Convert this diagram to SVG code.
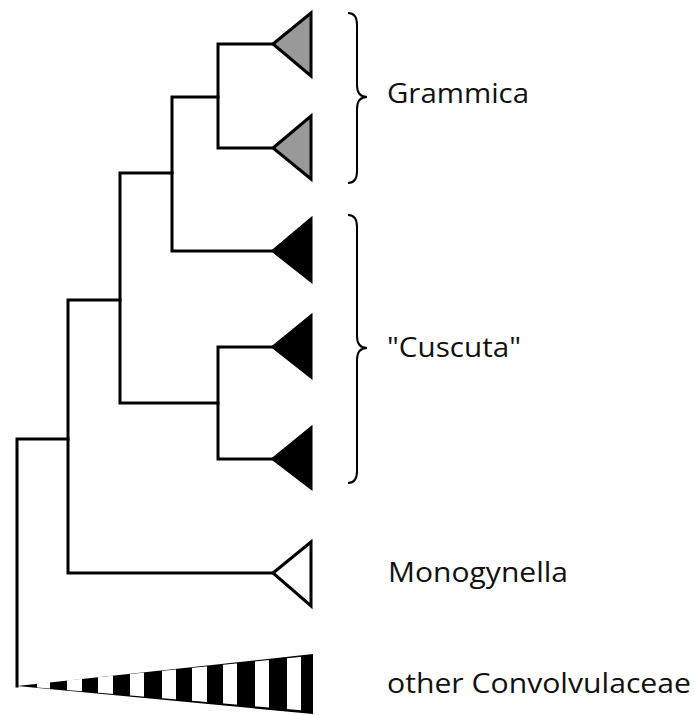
<svg xmlns="http://www.w3.org/2000/svg" width="694" height="715" viewBox="0 0 694 715">
<style>
.edge{fill:none;stroke:#000;stroke-width:3;stroke-linejoin:miter;stroke-linecap:square}
.tri{stroke:#000;stroke-width:3;stroke-linejoin:miter}
.gray{fill:#999}
.black{fill:#000}
.white{fill:#fff}
.brace{fill:none;stroke:#000;stroke-width:2}
.lbl{font-family:"Open Sans","Liberation Sans",sans-serif;font-size:26.5px;fill:#111}
</style>
<defs>
<clipPath id="stripeClip"><polygon points="20,685 310,656 310,711 20,686"/></clipPath>
</defs>
<rect width="694" height="715" fill="#fff"/>
<g id="connectors">
<path class="edge" d="M273,44 H218 V148 H273"/>
<path class="edge" d="M218,97 H172 V251 H273"/>
<path class="edge" d="M172,173 H120 V403 H218"/>
<path class="edge" d="M273,347 H218 V459 H273"/>
<path class="edge" d="M120,300 H68 V573 H273"/>
<path class="edge" d="M68,439 H17 V686"/>
</g>
<g id="grammica1"><polygon class="tri gray" points="273,44 311,13 311,76"/></g>
<g id="grammica2"><polygon class="tri gray" points="273,148 311,116 311,179"/></g>
<g id="cuscuta1"><polygon class="tri black" points="273,251 311,219 311,281"/></g>
<g id="cuscuta2"><polygon class="tri black" points="273,347 311,316 311,377"/></g>
<g id="cuscuta3"><polygon class="tri black" points="273,459 311,428 311,488"/></g>
<g id="monogynella"><polygon class="tri white" points="273,573 311,542 311,606"/></g>
<g id="other">
<polygon fill="#000" points="17,686 313,654 313,714"/>
<g clip-path="url(#stripeClip)" fill="#fff">
<rect x="37" y="640" width="13" height="80"/>
<rect x="67" y="640" width="15" height="80"/>
<rect x="98" y="640" width="15" height="80"/>
<rect x="130" y="640" width="14" height="80"/>
<rect x="162" y="640" width="14" height="80"/>
<rect x="192" y="640" width="15" height="80"/>
<rect x="223" y="640" width="14" height="80"/>
<rect x="255" y="640" width="14" height="80"/>
<rect x="287" y="640" width="14" height="80"/>
</g>
</g>
<g id="brace-grammica"><path class="brace" d="M348,13 Q357,13 357,25 V85 Q357,97 367,97 Q357,97 357,109 V171 Q357,183 348,183"/></g>
<g id="brace-cuscuta"><path class="brace" d="M348,215 Q357,215 357,227 V336 Q357,348 367,348 Q357,348 357,360 V471 Q357,483 348,483"/></g>
<g id="labels">
<text class="lbl" x="387" y="103" textLength="142" lengthAdjust="spacingAndGlyphs">Grammica</text>
<text class="lbl" x="387" y="357" textLength="134" lengthAdjust="spacingAndGlyphs">"Cuscuta"</text>
<text class="lbl" x="388" y="582" textLength="180" lengthAdjust="spacingAndGlyphs">Monogynella</text>
<text class="lbl" x="387" y="693" textLength="304" lengthAdjust="spacingAndGlyphs">other Convolvulaceae</text>
</g>
</svg>
